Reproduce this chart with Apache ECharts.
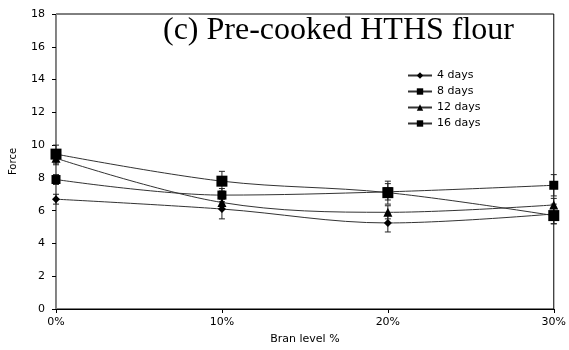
<!DOCTYPE html>
<html>
<head>
<meta charset="utf-8">
<script src="https://cdn.jsdelivr.net/npm/echarts@6/dist/echarts.min.js"></script>
<style>
  html, body { margin: 0; padding: 0; background: #fff; }
  #chart { width: 569px; height: 350px; }
</style>
</head>
<body>
<div id="chart"></div>
<script>
// bran levels on the x axis
var categories = ["0%", "10%", "20%", "30%"];

// force values
var days4 = [6.7, 6.1, 5.25, 5.8];
var days8 = [7.9, 6.95, 7.15, 7.55];
var days12 = [9.2, 6.5, 5.9, 6.35];
var days16 = [9.45, 7.8, 7.1, 5.7];

// error bar half-widths
var err4 = [0.3, 0.6, 0.55, 0.6];
var err8 = [0.3, 0.4, 0.5, 0.65];
var err12 = [0.4, 0.4, 0.4, 0.4];
var err16 = [0.55, 0.6, 0.7, 0.5];

var yTicks = [0, 2, 4, 6, 8, 10, 12, 14, 16, 18];

var smallFont = "DejaVu Sans";

var myChart = echarts.init(document.getElementById("chart"));

function lineSeries(name, data, symbol, size) {
  return {
    name: name,
    type: "line",
    data: data,
    smooth: 0.35,
    symbol: symbol,
    symbolSize: size,
    z: 3,
    lineStyle: { color: "#333", width: 1 },
    itemStyle: { color: "#000" }
  };
}

function errorSeries(values, errs) {
  var rows = values.map(function (v, i) { return [i, v - errs[i], v + errs[i]]; });
  return {
    type: "custom",
    data: rows,
    z: 2,
    silent: true,
    renderItem: function (params, api) {
      var lo = api.coord([api.value(0), api.value(1)]);
      var hi = api.coord([api.value(0), api.value(2)]);
      var w = 3;
      var style = { stroke: "#222", lineWidth: 1 };
      return {
        type: "group",
        children: [
          { type: "line", shape: { x1: lo[0], y1: lo[1], x2: hi[0], y2: hi[1] }, style: style },
          { type: "line", shape: { x1: lo[0] - w, y1: lo[1], x2: lo[0] + w, y2: lo[1] }, style: style },
          { type: "line", shape: { x1: hi[0] - w, y1: hi[1], x2: hi[0] + w, y2: hi[1] }, style: style }
        ]
      };
    }
  };
}

var option = {
  animation: false,
  backgroundColor: "#fff",
  title: {
    text: "(c) Pre-cooked HTHS flour",
    left: 158,
    top: 10,
    textStyle: {
      fontFamily: "Liberation Serif",
      fontWeight: "normal",
      fontSize: 32,
      color: "#000"
    }
  },
  legend: {
    orient: "vertical",
    left: 402,
    top: 65,
    itemGap: 5,
    itemWidth: 24,
    itemHeight: 8,
    textStyle: { fontFamily: smallFont, fontSize: 11, color: "#000" },
    data: ["4 days", "8 days", "12 days", "16 days"]
  },
  grid: {
    left: 53,
    right: 15,
    top: 14,
    bottom: 40,
    show: true,
    borderColor: "#000",
    borderWidth: 1
  },
  xAxis: {
    type: "category",
    data: categories,
    boundaryGap: false,
    name: "Bran level %",
    nameLocation: "middle",
    nameGap: 25,
    nameTextStyle: { fontFamily: smallFont, fontSize: 11, color: "#000" },
    axisLine: { lineStyle: { color: "#000", width: 1 } },
    axisTick: { show: true, length: 4, alignWithLabel: true, lineStyle: { color: "#000" } },
    axisLabel: { fontFamily: smallFont, fontSize: 11, color: "#000", margin: 8 },
    splitLine: { show: false }
  },
  yAxis: {
    type: "value",
    min: yTicks[0],
    max: yTicks[yTicks.length - 1],
    interval: 2,
    name: "Force",
    nameLocation: "middle",
    nameGap: 38,
    nameTextStyle: { fontFamily: smallFont, fontSize: 10, color: "#000" },
    axisLine: { show: true, lineStyle: { color: "#888", width: 1 } },
    axisTick: { show: true, length: 4, lineStyle: { color: "#000" } },
    axisLabel: { fontFamily: smallFont, fontSize: 11, color: "#000", margin: 11 },
    splitLine: { show: false }
  },
  series: [
    errorSeries(days4, err4),
    errorSeries(days8, err8),
    errorSeries(days12, err12),
    errorSeries(days16, err16),
    lineSeries("4 days", days4, "diamond", 8),
    lineSeries("8 days", days8, "rect", 9),
    lineSeries("12 days", days12, "triangle", 9),
    lineSeries("16 days", days16, "rect", 11)
  ]
};

myChart.setOption(option);
</script>
</body>
</html>
